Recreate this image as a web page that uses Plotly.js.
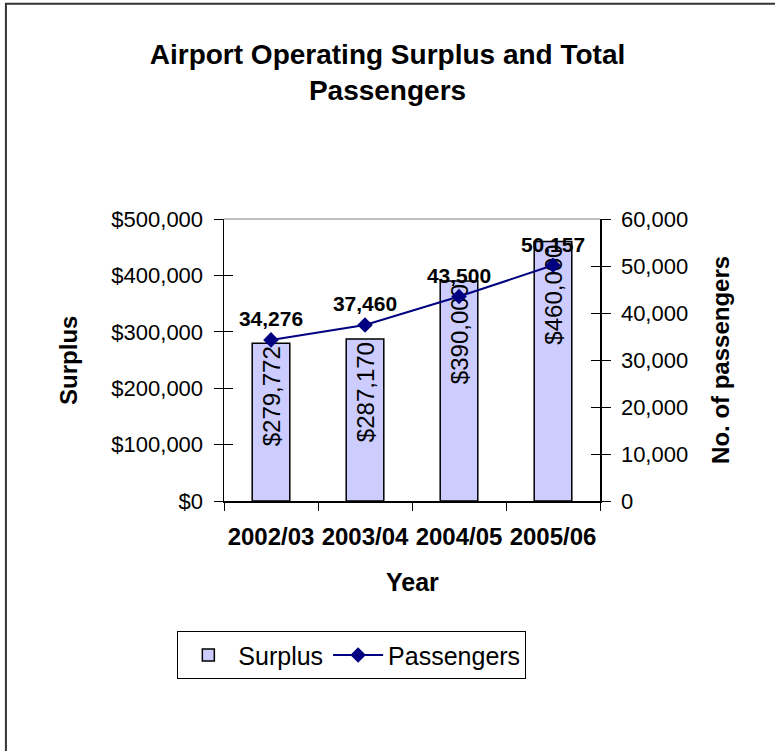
<!DOCTYPE html>
<html>
<head>
<meta charset="utf-8">
<script src="https://cdn.plot.ly/plotly-3.0.1.min.js"></script>
<style>html,body{margin:0;padding:0;background:#fff;}#chart{width:775px;height:751px;}</style>
</head>
<body>
<div id="chart"></div>
<script>
const years = ["2002/03", "2003/04", "2004/05", "2005/06"];
const surplus = [279772, 287170, 390000, 460000];
const passengers = [34276, 37460, 43500, 50157];
const surplusTicks = [0, 100000, 200000, 300000, 400000, 500000];
const passengerTicks = [0, 10000, 20000, 30000, 40000, 50000, 60000];

const FONT = "Liberation Sans, Arial, sans-serif";
const fmt = v => v.toLocaleString("en-US");

const traces = [
  {
    type: "bar", name: "Surplus", x: years, y: surplus,
    width: 0.4,
    marker: {color: "#CCCCFF", line: {color: "#000000", width: 1.5}},
    text: surplus.map(v => "$" + fmt(v)),
    textposition: "inside", insidetextanchor: "end", textangle: -90,
    constraintext: "none",
    textfont: {family: FONT, size: 24, color: "#000"},
    hoverinfo: "skip"
  },
  {
    type: "scatter", name: "Passengers", x: years, y: passengers, yaxis: "y2",
    mode: "lines+markers+text",
    line: {color: "#000080", width: 2},
    marker: {symbol: "diamond", size: 12, color: "#000080"},
    text: passengers.map(v => "<b>" + fmt(v) + "</b>"),
    textposition: "top center",
    textfont: {family: FONT, size: 21, color: "#000"},
    hoverinfo: "skip", cliponaxis: false
  },
  {type: "scatter", x: [], y: [], yaxis: "y3", showlegend: false, hoverinfo: "skip"},
  {type: "scatter", x: [], y: [], yaxis: "y4", showlegend: false, hoverinfo: "skip"}
];

const tickAxis = (range, vals, side) => ({
  overlaying: "y", side: side, range: range, tickvals: vals,
  ticks: "inside", ticklen: 9, tickcolor: "#000", tickwidth: 1,
  showticklabels: false, showline: false, showgrid: false, zeroline: false
});

const layout = {
  width: 775, height: 751,
  margin: {l: 224, r: 175, t: 219, b: 250},
  paper_bgcolor: "#fff", plot_bgcolor: "#fff",
  font: {family: FONT, color: "#000"},
  title: {
    text: "<b>Airport Operating Surplus and Total<br>Passengers</b>",
    font: {family: FONT, size: 28, color: "#000"},
    x: 0.5, xref: "container", xanchor: "center",
    y: 0.915, yref: "container", yanchor: "top"
  },
  showlegend: true,
  legend: {
    orientation: "h", x: 0.34, xanchor: "center", y: -0.462, yanchor: "top",
    bordercolor: "#000", borderwidth: 1, bgcolor: "#fff",
    font: {family: FONT, size: 25, color: "#000"},
    itemwidth: 50,
    traceorder: "normal"
  },
  xaxis: {
    type: "category", tickson: "boundaries", ticks: "outside", ticklen: 8,
    tickcolor: "#000", showline: true, linecolor: "#000", linewidth: 1.5,
    showgrid: false, zeroline: false, tickangle: 0,
    tickfont: {family: FONT, size: 24, color: "#000"},
    tickprefix: "<b>", ticksuffix: "</b>",
    ticklabelstandoff: 14,
    range: [-0.5, 3.5]
  },
  yaxis: {
    range: [0, 500000], tickvals: surplusTicks,
    ticktext: surplusTicks.map(v => "$" + fmt(v)),
    ticks: "outside", ticklen: 9, tickcolor: "#000",
    showline: true, linecolor: "#000", linewidth: 1.5,
    showgrid: false, zeroline: false,
    tickfont: {family: FONT, size: 22, color: "#000"},
    ticklabelstandoff: 6
  },
  yaxis2: {
    overlaying: "y", side: "right",
    range: [0, 60000], tickvals: passengerTicks,
    ticktext: passengerTicks.map(fmt),
    ticks: "outside", ticklen: 9, tickcolor: "#000",
    showline: true, linecolor: "#000", linewidth: 1.5,
    showgrid: false, zeroline: false,
    tickfont: {family: FONT, size: 22, color: "#000"},
    ticklabelstandoff: 6
  },
  yaxis3: tickAxis([0, 500000], surplusTicks, "left"),
  yaxis4: tickAxis([0, 60000], passengerTicks, "right"),
  annotations: [
    {text: "<b>Surplus</b>", xref: "paper", yref: "paper", x: -0.415, y: 0.5,
     xanchor: "center", yanchor: "middle", textangle: -90, showarrow: false,
     font: {family: FONT, size: 24, color: "#000"}},
    {text: "<b>No. of passengers</b>", xref: "paper", yref: "paper", x: 1.319, y: 0.5,
     xanchor: "center", yanchor: "middle", textangle: -90, showarrow: false,
     font: {family: FONT, size: 24, color: "#000"}},
    {text: "<b>Year</b>", xref: "paper", yref: "paper", x: 0.5, y: -0.287,
     xanchor: "center", yanchor: "middle", showarrow: false,
     font: {family: FONT, size: 25, color: "#000"}}
  ],
  shapes: [
    {type: "line", xref: "paper", yref: "paper", x0: 0, x1: 1, y0: 1, y1: 1,
     line: {color: "#808080", width: 1}},
    {type: "rect", xref: "paper", yref: "paper", x0: -0.58, x1: 2, y0: -2, y1: 1.763,
     line: {color: "#333", width: 2}, layer: "below"}
  ]
};

Plotly.newPlot("chart", traces, layout, {staticPlot: true, displayModeBar: false});
</script>
</body>
</html>
